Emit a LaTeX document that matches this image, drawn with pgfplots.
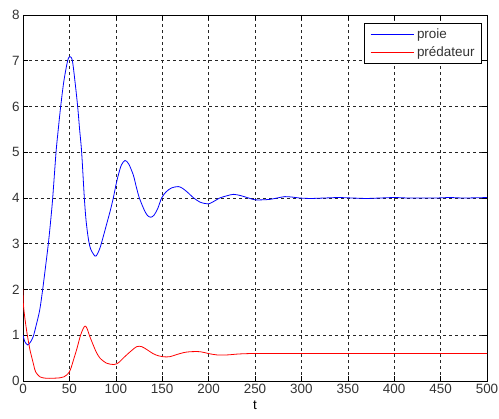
\documentclass[border=0pt]{standalone}
\usepackage{pgfplots}
\pgfplotsset{compat=1.18}
\usepackage{fontspec}
\setmainfont{Liberation Sans}
\pgfplotstableread{
t v
0 1.0
2 0.86
5 0.79
8 0.85
11 0.97
14 1.2
18 1.55
21.2 2.0
24.3 2.5
27.3 3.0
29.8 3.5
32 4.0
35.6 5.0
38 5.5
40.6 6.0
44 6.55
48.1 7.0
50.6 7.09
53.2 7.0
56 6.55
58.9 6.0
61 5.5
63.2 5.0
66.1 4.0
68 3.5
70.5 3.1
73 2.88
77.6 2.73
80 2.77
83 2.91
86 3.12
90 3.42
94 3.72
97.3 4.0
100 4.27
102.7 4.5
106 4.72
110 4.82
114 4.74
118.9 4.5
122 4.25
125.4 4.0
130.4 3.75
134 3.62
137.6 3.58
141 3.62
145 3.76
149.4 4.0
154 4.13
160 4.22
167.4 4.25
172 4.21
177 4.13
184 4.0
190.7 3.91
196 3.88
200 3.87
206 3.93
212 4.0
220 4.05
227 4.08
235 4.05
243 4.0
250 3.96
258 3.96
266 3.97
274 4.0
282 4.03
290 4.02
298 4.0
310 3.99
325 4.0
340 4.01
355 4.0
370 3.99
385 4.0
400 4.01
415 4.0
430 4.0
445 4.0
460 4.01
475 4.0
500 4.01
}\proie
\pgfplotstableread{
t v
0 2.0
0.5 1.65
2.5 1.3
4.7 1.0
7.5 0.68
9.3 0.53
11.5 0.35
13.6 0.2
18.3 0.09
25 0.06
32 0.06
40 0.07
44 0.09
47 0.13
50 0.2
52 0.3
55 0.5
58 0.7
62 1.0
65 1.15
67 1.2
69 1.15
71.5 1.0
75 0.82
79 0.63
83 0.5
90 0.39
98 0.36
103 0.4
108 0.5
115 0.63
122.5 0.75
128 0.75
134 0.68
140 0.6
146 0.55
151 0.53
158 0.53
166 0.58
173 0.62
180 0.64
191 0.64
200 0.6
209 0.57
220 0.57
232 0.59
245 0.6
260 0.6
300 0.6
350 0.6
400 0.6
450 0.6
500 0.6
}\predateur
\begin{document}
\begin{tikzpicture}
\begin{axis}[
  scale only axis, width=464bp, height=366bp,
  xmin=0, xmax=500, ymin=0, ymax=8,
  xtick={0,50,...,500}, ytick={0,1,...,8},
  grid=major,
  major grid style={black!85, dash pattern=on 3bp off 3bp, line width=0.6bp},
  axis line style={black, line width=0.7bp},
  tick style={black, line width=0.6bp},
  major tick length=5bp,
  tick align=inside,
  font=\fontsize{13.5}{16}\selectfont,
  /pgf/number format/assume math mode=true,
  /pgf/number format/1000 sep={},
  ticklabel style={text=black!80},
  xlabel={t},
  legend style={at={(axis description cs:0.989,0.978)}, anchor=north east,
    line width=0.6bp, font=\fontsize{13.5}{16}\selectfont,
    inner xsep=6bp, inner ysep=4bp, row sep=5bp, column sep=2bp,
    nodes={inner sep=1bp, text=black!80}},
  legend cell align=left,
  legend image code/.code={\draw[#1, sharp plot] (0bp,0bp) -- (43bp,0bp);},
]
\addplot[color=blue, line width=0.8bp, smooth] table[x=t,y=v] {\proie};
\addlegendentry{proie}
\addplot[color=red, line width=0.8bp, smooth] table[x=t,y=v] {\predateur};
\addlegendentry{prédateur}
\end{axis}
\pgfresetboundingbox
\path (current axis.south west) ++(-23bp,-38bp) rectangle ++(499bp,419bp);
\end{tikzpicture}
\end{document}
